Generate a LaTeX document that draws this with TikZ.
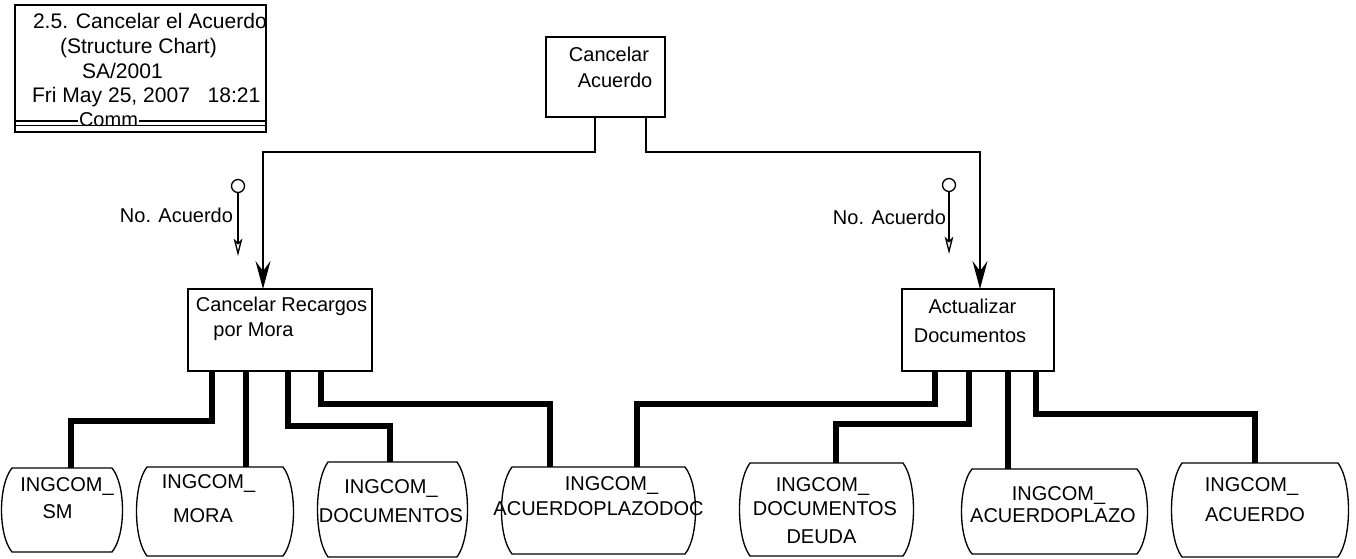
\documentclass[tikz,border=0pt]{standalone}
\usepackage{fontspec}
\setmainfont{Liberation Sans}
\usetikzlibrary{arrows.meta}

% Data store: flat top and bottom, sides bulging outwards.
% #1 name, #2 left x, #3 right x, #4 top y, #5 bottom y
\newcommand\datastore[5]{%
  \node[storebody, minimum width={(#3-#2)*0.75pt}, minimum height={(#5-#4)*0.75pt}]
    (#1) at ({(#2+#3)/2},{(#4+#5)/2}) {};
  \draw[storeline] (#1.north west) -- (#1.north east)
    .. controls +(14,{0.2*(#5-#4)}) and +(14,{-0.2*(#5-#4)}) .. (#1.south east)
    -- (#1.south west)
    .. controls +(-14,{-0.2*(#5-#4)}) and +(-14,{0.2*(#5-#4)}) .. (#1.north west) -- cycle;
}

\begin{document}
\begin{tikzpicture}[x=0.75pt,y=-0.75pt,
  lbl/.style={inner sep=0pt, outer sep=0pt, anchor=base, font=\fontsize{15}{18}\selectfont},
  hdrlbl/.style={lbl, anchor=base west, font=\fontsize{15.8}{18}\selectfont},
  modbox/.style={draw, line width=1.5pt, inner sep=0pt, outer sep=0pt},
  thinrule/.style={line width=1.1pt},
  storebody/.style={inner sep=0pt, outer sep=0pt},
  storeline/.style={line width=1pt, line join=round},
  callline/.style={line width=1.1pt, -{Stealth[length=21pt,width=11.25pt,inset=7.5pt]}},
  flowline/.style={line width=4.2pt},
  couplering/.style={draw, circle, line width=1pt, minimum size=9.75pt, inner sep=0pt, outer sep=0pt},
  coupleline/.style={line width=1pt, -{Stealth[open,length=13pt,width=6.5pt,inset=3pt]}},
]
\useasboundingbox (0,0) rectangle (1356,558);
\fill[white] (0,0) rectangle (1356,558);

% ---- header block ----
\node[modbox, minimum width=188.25pt, minimum height=95.25pt] (hdr) at (140.5,68.5) {};
\node[hdrlbl] (hdr1) at (33,28) {2.5. Cancelar el Acuerdo};
\node[hdrlbl] (hdr2) at (60,53) {(Structure Chart)};
\node[hdrlbl] (hdr3) at (82,78) {SA/2001};
\node[hdrlbl] (hdr4) at (32,102) {Fri May 25, 2007\ \ \ 18:21};
\draw[thinrule] ([yshift=8.25pt]hdr.south west) -- ([yshift=8.25pt]hdr.south east);
\node[lbl, fill=white, inner xsep=1pt] (comm) at (108.5,126) {Comm};
\draw[thinrule] ([yshift=5pt]hdr.south west) -- ([yshift=5pt]hdr.south east);

% ---- modules ----
\node[modbox, minimum width=89.25pt, minimum height=60pt] (ca) at (605.5,77) {};
\node[lbl] (ca1) at (609,61) {Cancelar};
\node[lbl] (ca2) at (615,87) {Acuerdo};

\node[modbox, minimum width=138pt, minimum height=61.5pt] (crm) at (280,330) {};
\node[lbl] (crm1) at (281.5,311) {Cancelar Recargos};
\node[lbl] (crm2) at (253.5,336) {por Mora};

\node[modbox, minimum width=114pt, minimum height=61.5pt] (ad) at (978,330) {};
\node[lbl] (ad1) at (972.5,313) {Actualizar};
\node[lbl] (ad2) at (970,342) {Documentos};

% ---- calls ----
\draw[callline] ([xshift=-7.875pt]ca.south) -- ++(0,35) -| ([xshift=-12.75pt]crm.north);
\draw[callline] ([xshift=30.375pt]ca.south) -- ++(0,35) -| ([xshift=1.5pt]ad.north);

% ---- data couples ----
\node[couplering] (cp1) at (238,186) {};
\coordinate (cp1-tip) at (238,256);
\draw[coupleline] (cp1.south) -- (cp1-tip);
\node[lbl, anchor=base east] (cp1-lbl) at (233,222) {No. Acuerdo};

\node[couplering] (cp2) at (949,185) {};
\coordinate (cp2-tip) at (949,254);
\draw[coupleline] (cp2.south) -- (cp2-tip);
\node[lbl, anchor=base east] (cp2-lbl) at (946,224) {No. Acuerdo};

% ---- data stores ----
\datastore{sm}{12}{112}{468}{552}
\node[lbl] (sm1) at (67,491) {INGCOM\_};
\node[lbl] (sm2) at (57.5,518) {SM};

\datastore{mora}{147}{283}{467}{556}
\node[lbl] (mora1) at (208.5,488) {INGCOM\_};
\node[lbl] (mora2) at (203,522) {MORA};

\datastore{docs}{328}{457}{462}{557}
\node[lbl] (docs1) at (391,493) {INGCOM\_};
\node[lbl] (docs2) at (391,522) {DOCUMENTOS};

\datastore{apd}{512}{685}{467}{554}
\node[lbl] (apd1) at (611.5,490) {INGCOM\_};
\node[lbl] (apd2) at (598.5,515) {ACUERDOPLAZODOC};

\datastore{dd}{750}{903}{463}{556}
\node[lbl] (dd1) at (822.5,491) {INGCOM\_};
\node[lbl] (dd2) at (825,515) {DOCUMENTOS};
\node[lbl] (dd3) at (821.5,543) {DEUDA};

\datastore{ap}{972}{1137}{469}{554}
\node[lbl] (ap1) at (1058.5,500) {INGCOM\_};
\node[lbl] (ap2) at (1053,522) {ACUERDOPLAZO};

\datastore{ac}{1182}{1338}{463}{557}
\node[lbl] (ac1) at (1251.5,491) {INGCOM\_};
\node[lbl] (ac2) at (1255,521) {ACUERDO};

% ---- table accesses ----
\draw[flowline] ([xshift=-51pt]crm.south) -- ++(0,50) -| ([xshift=6.75pt]sm.north);
\draw[flowline] ([xshift=-25.5pt]crm.south) -- ([xshift=23.25pt]mora.north);
\draw[flowline] ([xshift=6pt]crm.south) -- ++(0,55) -| ([xshift=-1.875pt]docs.north);
\draw[flowline] ([xshift=30.75pt]crm.south) -- ++(0,33) -| ([xshift=-36.375pt]apd.north);
\draw[flowline] ([xshift=-32.25pt]ad.south) -- ++(0,33) -| ([xshift=28.875pt]apd.north);
\draw[flowline] ([xshift=-6.75pt]ad.south) -- ++(0,53) -| ([xshift=7.125pt]dd.north);
\draw[flowline] ([xshift=22.5pt]ad.south) -- ([xshift=-34.875pt]ap.north);
\draw[flowline] ([xshift=43.5pt]ad.south) -- ++(0,43) -| ([xshift=-3.75pt]ac.north);
\end{tikzpicture}
\end{document}
